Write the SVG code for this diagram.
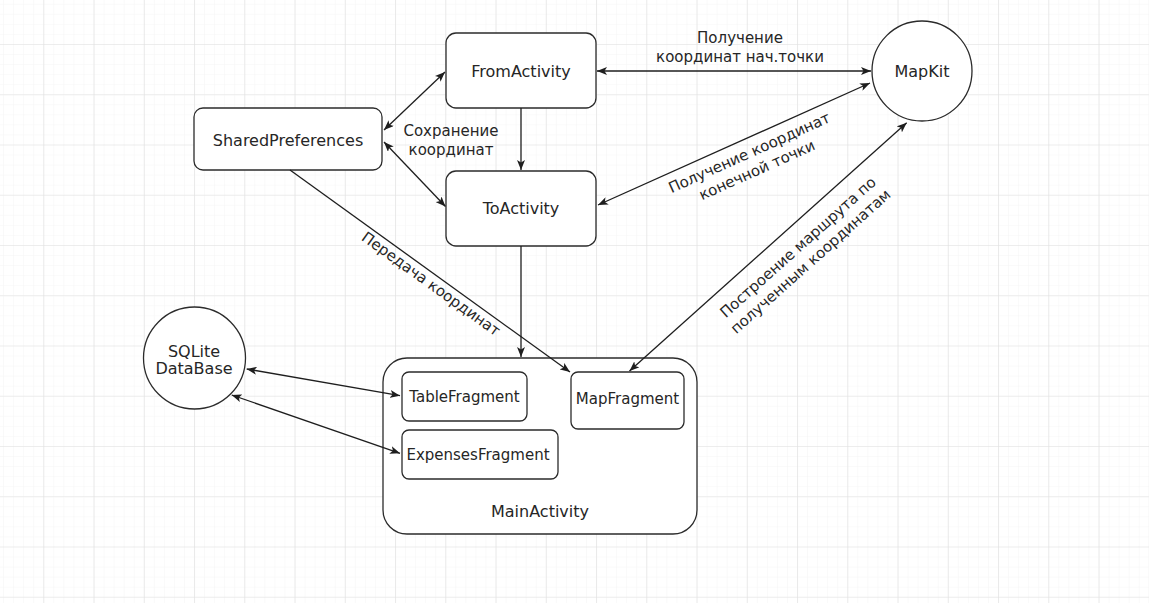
<svg xmlns="http://www.w3.org/2000/svg" width="1149" height="603" viewBox="0 0 1149 603">
<style>
.node{fill:#ffffff;stroke:#2b2b2b;stroke-width:1.3}
.lbl{font-family:"DejaVu Sans","Liberation Sans",sans-serif;fill:#262626;text-anchor:middle}
.big{font-size:16px}
.mid{font-size:15px}
.edge{font-family:"DejaVu Sans","Liberation Sans",sans-serif;fill:#262626;text-anchor:middle;font-size:15px}
.ln{fill:none;stroke:#1e1e1e;stroke-width:1.3}
.bi{marker-start:url(#arr);marker-end:url(#arr)}
.uni{marker-end:url(#arr)}
</style>
<defs>
<marker id="arr" viewBox="0 0 10 8" refX="10" refY="4" markerWidth="10" markerHeight="8" markerUnits="userSpaceOnUse" orient="auto-start-reverse">
<path d="M0,0 L10,4 L0,8 L2.5,4 Z" fill="#1e1e1e"/>
</marker>
<pattern id="minor" x="43.3" y="44" width="10.05" height="10.05" patternUnits="userSpaceOnUse">
<path d="M0,0 H10.05 M0,0 V10.05" stroke="#f5f5f5" stroke-width="1" fill="none"/>
</pattern>
<pattern id="major" x="43.3" y="44" width="50.25" height="50.25" patternUnits="userSpaceOnUse">
<path d="M0,0 H50.25 M0,0 V50.25" stroke="#e0e0e0" stroke-width="1.2" fill="none"/>
</pattern>
</defs>
<rect width="1149" height="603" fill="#ffffff"/>
<rect width="1149" height="603" fill="url(#minor)"/>
<rect width="1149" height="603" fill="url(#major)"/>

<g id="FromActivity">
<rect class="node" x="446" y="33" width="150" height="75" rx="10"/>
<text class="lbl big" x="521" y="77">FromActivity</text>
</g>
<g id="ToActivity">
<rect class="node" x="446" y="171" width="150" height="75" rx="10"/>
<text class="lbl big" x="521" y="214">ToActivity</text>
</g>
<g id="SharedPreferences">
<rect class="node" x="194" y="108" width="188" height="62" rx="9"/>
<text class="lbl big" x="288" y="146">SharedPreferences</text>
</g>
<g id="MapKit">
<circle class="node" cx="922" cy="71" r="50"/>
<text class="lbl big" x="922" y="77">MapKit</text>
</g>
<g id="SQLiteDataBase">
<circle class="node" cx="194.5" cy="358" r="51"/>
<text class="lbl big" x="194" y="356.5">SQLite</text>
<text class="lbl big" x="194" y="373.5">DataBase</text>
</g>
<g id="MainActivity">
<rect class="node" x="383" y="358" width="314" height="176" rx="24"/>
<text class="lbl big" x="540" y="517">MainActivity</text>
</g>
<g id="TableFragment">
<rect class="node" x="402" y="372" width="125" height="49" rx="7"/>
<text class="lbl mid" x="464.5" y="402">TableFragment</text>
</g>
<g id="MapFragment">
<rect class="node" x="571" y="372" width="113" height="57" rx="7"/>
<text class="lbl mid" x="627.5" y="404">MapFragment</text>
</g>
<g id="ExpensesFragment">
<rect class="node" x="402" y="430" width="156" height="49" rx="7"/>
<text class="lbl mid" x="478" y="460">ExpensesFragment</text>
</g>

<g id="connectors">
<line class="ln bi" x1="597" y1="71" x2="871" y2="71"/>
<line class="ln bi" x1="598" y1="205" x2="870" y2="83"/>
<line class="ln bi" x1="629.5" y1="371" x2="906.7" y2="122.7"/>
<line class="ln bi" x1="384" y1="130" x2="445" y2="72"/>
<line class="ln bi" x1="384" y1="142" x2="445.5" y2="206.5"/>
<line class="ln uni" x1="521" y1="108" x2="521" y2="170"/>
<line class="ln uni" x1="521" y1="246" x2="521" y2="357"/>
<line class="ln uni" x1="290" y1="170" x2="570" y2="372"/>
<line class="ln bi" x1="246.7" y1="369" x2="400" y2="395.7"/>
<line class="ln bi" x1="231.7" y1="395" x2="400" y2="453.3"/>
<text class="edge" x="740" y="43">Получение</text>
<text class="edge" x="740" y="61.5">координат нач.точки</text>
<text class="edge" x="451" y="136">Сохранение</text>
<text class="edge" x="451" y="155">координат</text>
<g transform="translate(753,161) rotate(-24.2)">
<text class="edge" x="0" y="-4">Получение координат</text>
<text class="edge" x="0" y="15">конечной точки</text>
</g>
<g transform="translate(804,254) rotate(-41.7)">
<text class="edge" x="0" y="-4">Построение маршрута по</text>
<text class="edge" x="0" y="15">полученным координатам</text>
</g>
<g transform="translate(431,284) rotate(35.8)">
<text class="edge" x="0" y="5">Передача координат</text>
</g>
</g>
</svg>
